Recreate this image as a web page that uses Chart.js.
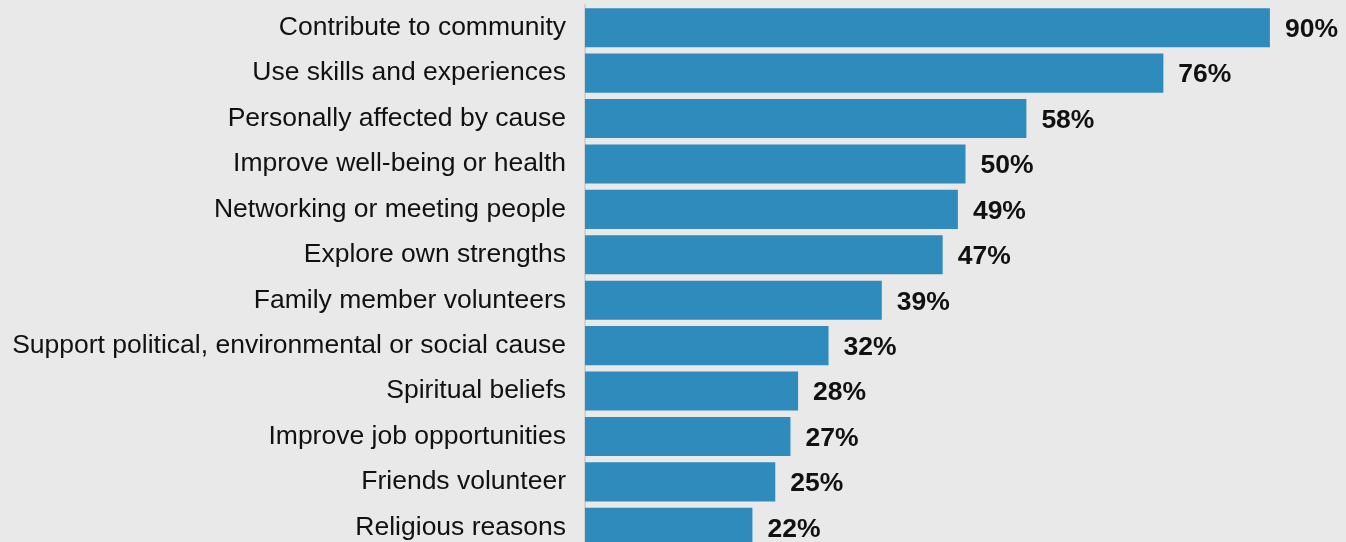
<!DOCTYPE html>
<html>
<head>
<meta charset="utf-8">
<script src="https://cdn.jsdelivr.net/npm/chart.js@4"></script>
<style>
  html, body { margin: 0; padding: 0; background: #e9e9e9; overflow: hidden; }
  #wrap { width: 1346px; height: 550px; position: relative; }
</style>
</head>
<body>
<div id="wrap"><canvas id="reasonsChart"></canvas></div>
<script>
// reasons for volunteering, share of respondents (%)
const reasons = [
    'Contribute to community',
    'Use skills and experiences',
    'Personally affected by cause',
    'Improve well-being or health',
    'Networking or meeting people',
    'Explore own strengths',
    'Family member volunteers',
    'Support political, environmental or social cause',
    'Spiritual beliefs',
    'Improve job opportunities',
    'Friends volunteer',
    'Religious reasons'
];
const shares = [90, 76, 58, 50, 49, 47, 39, 32, 28, 27, 25, 22];

const FONT = '"Liberation Sans", Arial, Helvetica, sans-serif';

// percentage text just past the end of each bar
const valueLabels = {
    id: 'valueLabels',
    afterDatasetsDraw(chart) {
        const c = chart.ctx;
        const meta = chart.getDatasetMeta(0);
        c.save();
        c.font = 'bold 26.5px ' + FONT;
        c.fillStyle = '#111';
        c.textAlign = 'left';
        c.textBaseline = 'middle';
        meta.data.forEach((bar, i) => {
            c.fillText(shares[i] + '%', bar.x + 15, bar.y + 2);
        });
        c.restore();
    }
};

const ctx = document.getElementById('reasonsChart').getContext('2d');
const reasonsChart = new Chart(ctx, {
    type: 'bar',
    data: {
        labels: reasons,
        datasets: [{
            data: shares,
            backgroundColor: '#2e8bbb',
            borderWidth: 0,
            barPercentage: 1,
            categoryPercentage: 0.86
        }]
    },
    options: {
        indexAxis: 'y',
        responsive: true,
        maintainAspectRatio: false,
        animation: false,
        layout: { padding: { top: 5, right: 0, bottom: 0, left: 0 } },
        plugins: {
            legend: { display: false },
            tooltip: { enabled: false }
        },
        scales: {
            x: {
                display: false,
                min: 0,
                max: 100
            },
            y: {
                afterFit(scale) {
                    scale.width = 585;
                    scale.paddingTop = 0;
                    scale.paddingBottom = 0;
                },
                grid: { display: false, drawTicks: false },
                border: { display: true, color: '#d2d2d2', width: 2 },
                ticks: {
                    color: '#111',
                    padding: 19,
                    font: { family: FONT, size: 26.5 }
                }
            }
        }
    },
    plugins: [valueLabels]
});
</script>
</body>
</html>
